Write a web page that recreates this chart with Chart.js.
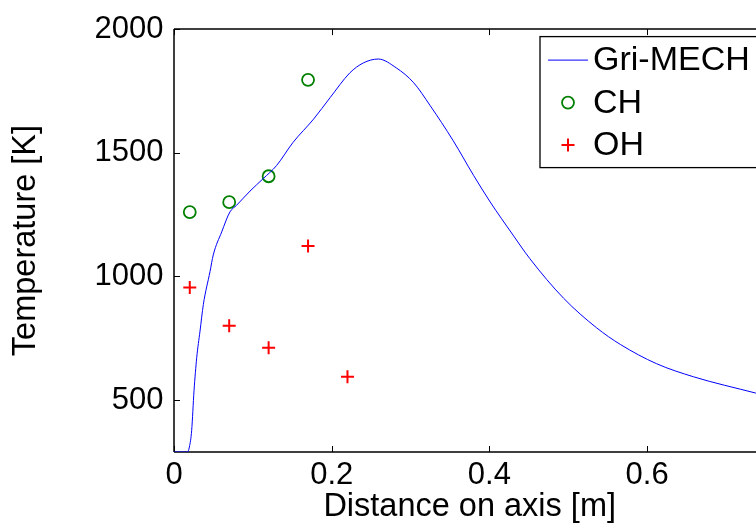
<!DOCTYPE html>
<html>
<head>
<meta charset="utf-8">
<script src="https://cdn.jsdelivr.net/npm/chart.js@4/dist/chart.umd.min.js"></script>
<style>
  html, body { margin: 0; padding: 0; background: #fff; overflow: hidden; width: 756px; height: 527px; }
  #wrap { position: absolute; left: 0; top: 0; width: 800px; height: 527px; }
</style>
</head>
<body>
<div id="wrap"><canvas id="c" width="800" height="527"></canvas></div>
<script>
// ---- data ----
const mechX = [0, 0.017, 0.0195, 0.0224, 0.0254, 0.0288, 0.033, 0.0372, 0.0457, 0.0498, 0.0605, 0.071, 0.0795, 0.0964, 0.113, 0.130, 0.151, 0.177, 0.198, 0.223, 0.240, 0.259, 0.282, 0.304, 0.325, 0.354, 0.380, 0.401, 0.430, 0.451, 0.494, 0.536, 0.566, 0.612, 0.659, 0.738];
const mechT = [290, 290, 310, 377, 538, 671, 779, 886, 1020, 1087, 1180, 1261, 1288, 1345, 1395, 1448, 1542, 1636, 1723, 1823, 1863, 1879, 1843, 1783, 1690, 1549, 1408, 1301, 1167, 1073, 912, 792, 725, 647, 594, 528];
const chX = [0.02, 0.07, 0.12, 0.17];
const chT = [1260, 1300, 1405, 1795];
const ohX = [0.02, 0.07, 0.12, 0.17, 0.22];
const ohT = [955, 800, 712, 1123, 594];
const seriesLabels = ['Gri-MECH', 'CH', 'OH'];
const xTicks = [0, 0.2, 0.4, 0.6];
const xTickLabels = ['0', '0.2', '0.4', '0.6'];
const yTicks = [500, 1000, 1500, 2000];
const yTickLabels = ['500', '1000', '1500', '2000'];
const xTitle = 'Distance on axis [m]';
const yTitle = 'Temperature [K]';

const FONT = "'Liberation Sans', Arial, Helvetica, sans-serif";
const toPts = (xs, ys) => xs.map((x, i) => ({ x: x, y: ys[i] }));

// MATLAB-like axes box with inward ticks
const boxPlugin = {
  id: 'matlabBox',
  beforeDatasetsDraw(chart) {
    const { ctx, chartArea: a, scales } = chart;
    ctx.save();
    ctx.strokeStyle = '#000';
    ctx.lineWidth = 1.5;
    ctx.beginPath();
    ctx.moveTo(a.left, a.top); ctx.lineTo(a.right, a.top);
    ctx.moveTo(a.left, a.top); ctx.lineTo(a.left, a.bottom);
    ctx.moveTo(a.left, a.bottom); ctx.lineTo(a.right, a.bottom);
    ctx.moveTo(a.right, a.top); ctx.lineTo(a.right, a.bottom);
    ctx.stroke();
    ctx.lineWidth = 1;
    const tl = 6;
    ctx.beginPath();
    scales.x.ticks.forEach(t => {
      const px = Math.round(scales.x.getPixelForValue(t.value)) + 0.5;
      ctx.moveTo(px, a.bottom); ctx.lineTo(px, a.bottom - tl);
      ctx.moveTo(px, a.top); ctx.lineTo(px, a.top + tl);
    });
    scales.y.ticks.forEach(t => {
      const py = Math.round(scales.y.getPixelForValue(t.value)) + 0.5;
      ctx.moveTo(a.left, py); ctx.lineTo(a.left + tl, py);
      ctx.moveTo(a.right, py); ctx.lineTo(a.right - tl, py);
    });
    ctx.stroke();
    ctx.restore();
  }
};

// MATLAB-like legend box in the north-east corner
const legendPlugin = {
  id: 'matlabLegend',
  afterDatasetsDraw(chart) {
    const { ctx, chartArea: a } = chart;
    const left = a.left + 366, top = a.top + 7.5, right = a.right - 5, h = 131;
    ctx.save();
    ctx.fillStyle = '#fff';
    ctx.fillRect(left, top, right - left, h);
    ctx.strokeStyle = '#000';
    ctx.lineWidth = 1.3;
    ctx.strokeRect(left, top, right - left, h);
    ctx.font = '34px ' + FONT;
    ctx.textBaseline = 'middle';
    ctx.textAlign = 'left';
    chart.data.datasets.forEach((ds, i) => {
      const cy = top + 23.5 + i * 42.5;
      const sx0 = left + 8, sx1 = left + 48, cx = (sx0 + sx1) / 2;
      ctx.strokeStyle = ds.borderColor;
      if (ds.showLine) {
        ctx.lineWidth = ds.borderWidth;
        ctx.beginPath(); ctx.moveTo(sx0, cy); ctx.lineTo(sx1, cy); ctx.stroke();
      } else if (ds.pointStyle === 'circle') {
        ctx.lineWidth = ds.borderWidth;
        ctx.beginPath(); ctx.arc(cx, cy, ds.pointRadius, 0, Math.PI * 2); ctx.stroke();
      } else {
        ctx.lineWidth = ds.borderWidth;
        const r = ds.pointRadius;
        ctx.beginPath();
        ctx.moveTo(cx - r, cy); ctx.lineTo(cx + r, cy);
        ctx.moveTo(cx, cy - r); ctx.lineTo(cx, cy + r);
        ctx.stroke();
      }
      ctx.fillStyle = '#000';
      ctx.fillText(ds.label, left + 53, cy + 1);
    });
    ctx.restore();
  }
};

new Chart(document.getElementById('c'), {
  type: 'scatter',
  data: {
    datasets: [
      { label: seriesLabels[0], data: toPts(mechX, mechT), showLine: true, borderColor: '#0000ff', borderWidth: 1, pointRadius: 0, fill: false, cubicInterpolationMode: 'monotone' },
      { label: seriesLabels[1], data: toPts(chX, chT), showLine: false, pointStyle: 'circle', pointRadius: 6, borderColor: '#008000', borderWidth: 1.8, backgroundColor: 'rgba(0,0,0,0)' },
      { label: seriesLabels[2], data: toPts(ohX, ohT), showLine: false, pointStyle: 'cross', pointRadius: 6.5, borderColor: '#ff0000', borderWidth: 2, backgroundColor: '#ff0000' }
    ]
  },
  options: {
    responsive: false,
    animation: false,
    devicePixelRatio: 1,
    layout: { padding: { top: 26, right: 34.6, left: 0, bottom: 0 } },
    plugins: { legend: { display: false }, tooltip: { enabled: false } },
    scales: {
      x: {
        type: 'linear', position: 'bottom', min: 0, max: 0.75,
        grid: { display: false, drawTicks: false },
        border: { display: false },
        afterBuildTicks: s => { s.ticks = xTicks.map(v => ({ value: v })); },
        afterFit: s => { s.height = 75; },
        ticks: {
          autoSkip: false, maxRotation: 0, padding: 5.3, color: '#000',
          font: { family: FONT, size: 31 },
          callback: v => { const i = xTicks.indexOf(v); return i >= 0 ? xTickLabels[i] : ''; }
        },
        title: { display: true, text: xTitle, color: '#000', font: { family: FONT, size: 32.5 }, padding: { top: 0, bottom: 0.8 } }
      },
      y: {
        type: 'linear', position: 'left', min: 290, max: 2000,
        grid: { display: false, drawTicks: false },
        border: { display: false },
        afterBuildTicks: s => { s.ticks = yTicks.map(v => ({ value: v })); },
        afterFit: s => { s.width = 174; },
        ticks: {
          autoSkip: false, padding: 10.5, color: '#000',
          font: { family: FONT, size: 31 },
          callback: v => { const i = yTicks.indexOf(v); return i >= 0 ? yTickLabels[i] : ''; }
        },
        title: { display: true, text: yTitle, color: '#000', font: { family: FONT, size: 32.5 }, padding: { top: 6.3, bottom: 0 } }
      }
    }
  },
  plugins: [boxPlugin, legendPlugin]
});
</script>
</body>
</html>
